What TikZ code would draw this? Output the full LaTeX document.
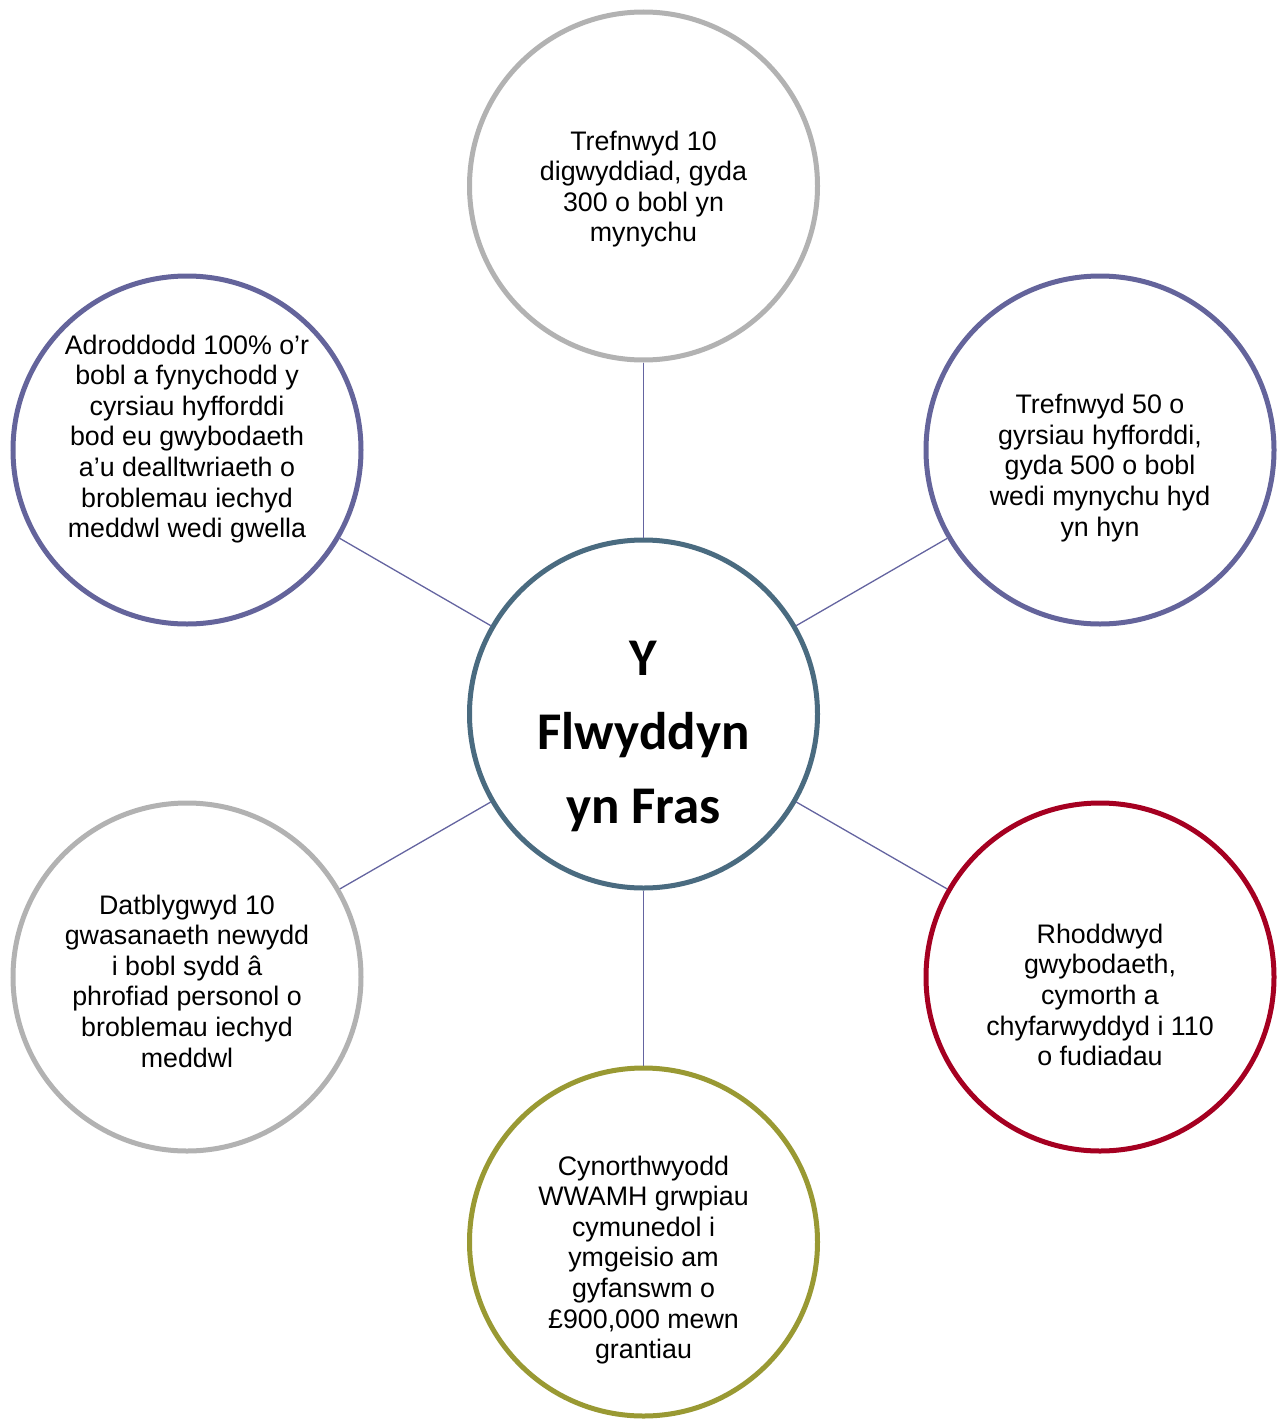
\documentclass[tikz,border=0pt]{standalone}
\usepackage{fontspec}
\setmainfont{Liberation Sans}
\newfontfamily\calib{Carlito}
\definecolor{cgray}{RGB}{178,178,178}
\definecolor{cpurple}{RGB}{100,100,155}
\definecolor{cteal}{RGB}{74,107,128}
\definecolor{cred}{RGB}{165,0,33}
\definecolor{colive}{RGB}{153,153,51}
\definecolor{clink}{RGB}{100,100,160}
\tikzset{
  bubble/.style={circle, draw=#1, line width=5pt, minimum size=348pt, inner sep=0pt, fill=white},
  btext/.style={align=center, inner sep=0pt, font=\fontsize{26.8}{30.6}\selectfont},
  link/.style={draw=clink, line width=1.3pt},
}
\begin{document}
\begin{tikzpicture}[x=1pt,y=-1pt]
\useasboundingbox (0,0) rectangle (1279,1426);
\node[bubble=cteal] (c) at (643.5,714) {};
\node[bubble=cgray] (t) at (643.5,186) {};
\node[bubble=cpurple] (ur) at (1100,450) {};
\node[bubble=cpurple] (ul) at (187,450) {};
\node[bubble=cgray] (ll) at (187,977) {};
\node[bubble=cred] (lr) at (1100,977) {};
\node[bubble=colive] (b) at (643.5,1242) {};
\draw[link] (c) -- (t);
\draw[link] (c) -- (ur);
\draw[link] (c) -- (ul);
\draw[link] (c) -- (ll);
\draw[link] (c) -- (lr);
\draw[link] (c) -- (b);
\node[align=center, inner sep=0pt, font=\calib\bfseries\fontsize{53}{74}\selectfont] (ct) at (643.5,736) {Y\\Flwyddyn\\yn Fras};
\node[btext] (tt) at (643.5,189) {Trefnwyd 10\\digwyddiad, gyda\\300 o bobl yn\\mynychu};
\node[btext] (urt) at (1100,468) {Trefnwyd 50 o\\gyrsiau hyfforddi,\\gyda 500 o bobl\\wedi mynychu hyd\\yn hyn};
\node[btext] (ult) at (187,439) {Adroddodd 100\% o’r\\bobl a fynychodd y\\cyrsiau hyfforddi\\bod eu gwybodaeth\\a’u dealltwriaeth o\\broblemau iechyd\\meddwl wedi gwella};
\node[btext] (llt) at (187,981) {Datblygwyd 10\\gwasanaeth newydd\\i bobl sydd â\\phrofiad personol o\\broblemau iechyd\\meddwl};
\node[btext] (lrt) at (1100,995) {Rhoddwyd\\gwybodaeth,\\cymorth a\\chyfarwyddyd i 110\\o fudiadau};
\node[btext] (bt) at (643.5,1260) {Cynorthwyodd\\WWAMH grwpiau\\cymunedol i\\ymgeisio am\\gyfanswm o\\£900,000 mewn\\grantiau};
\end{tikzpicture}
\end{document}
